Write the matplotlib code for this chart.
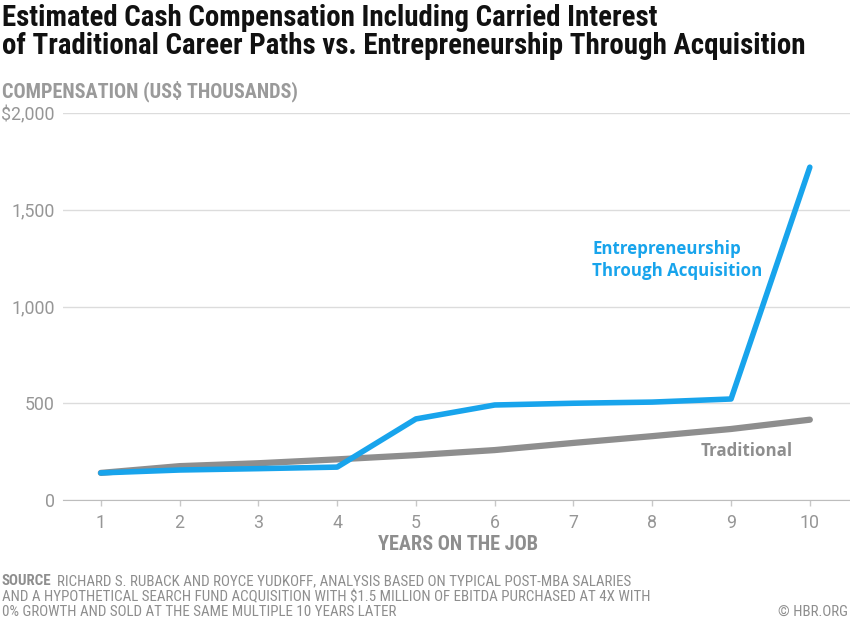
import matplotlib
matplotlib.use("Agg")
import matplotlib.pyplot as plt

years = [1, 2, 3, 4, 5, 6, 7, 8, 9, 10]
eta = [140, 155, 162, 170, 419, 491, 500, 506, 522, 1720]
traditional = [140, 175, 190, 210, 232, 258, 295, 330, 367, 415]
y_ticks = [0, 500, 1000, 1500, 2000]
y_labels = ["0", "500", "1,000", "1,500", "$2,000"]

blue = "#18a4ec"
grey_line = "#8e8e8e"
grey_text = "#9a9a9a"
narrow = ["Roboto Condensed", "Roboto", "DejaVu Sans"]
plain = ["Roboto", "DejaVu Sans"]
wide = ["Open Sans", "DejaVu Sans"]

fig = plt.figure(figsize=(8.5, 6.21), dpi=100)
ax = fig.add_axes([63 / 850, 121 / 621, 787 / 850, 387 / 621])

# grey first so blue sits on top
ax.plot(years, traditional, color=grey_line, lw=4.5, solid_capstyle="round", zorder=3)
ax.plot(years, eta, color=blue, lw=4, solid_capstyle="round", zorder=4)

ax.set_xlim(0.52, 10.51)
ax.set_ylim(0, 2000)
ax.set_yticks(y_ticks)
ax.set_yticklabels(y_labels)
ax.set_xticks(years)
ax.grid(axis="y", color="#dcdcdc", lw=1)
ax.set_axisbelow(True)
for s in ["top", "right", "left"]:
    ax.spines[s].set_visible(False)
ax.spines["bottom"].set_color("#bdbdbd")
ax.tick_params(axis="y", length=0, pad=6, labelsize=12.8, labelcolor="#969696")
ax.tick_params(axis="x", length=4, width=1, color="#c8c8c8", pad=6,
               labelsize=12.8, labelcolor="#969696")
for lab in ax.get_xticklabels() + ax.get_yticklabels():
    lab.set_family(plain)
    lab.set_weight("normal")

ax.text(7.24, 1240, "Entrepreneurship\nThrough Acquisition", color=blue,
        fontsize=12.2, fontweight="bold", family=wide,
        linespacing=1.3, va="center", ha="left")
ax.text(8.61, 253, "Traditional", color=grey_line, fontsize=12.2,
        fontweight="bold", family=wide, va="center")

fig.text(0.002, 1 - 4 / 621, "Estimated Cash Compensation Including Carried Interest\n"
         "of Traditional Career Paths vs. Entrepreneurship Through Acquisition",
         fontsize=20.8, fontweight="bold", family=narrow, va="top",
         linespacing=0.98, color="#111111")
fig.text(0.002, 1 - 91 / 621, "COMPENSATION (US$ THOUSANDS)", fontsize=14.6,
         fontweight="bold", family=narrow, color=grey_text, va="center")
fig.text(458 / 850, 1 - 544 / 621, "YEARS ON THE JOB", fontsize=14.6,
         fontweight="bold", family=narrow, color=grey_line, va="center", ha="center")

src_lines = ["RICHARD S. RUBACK AND ROYCE YUDKOFF, ANALYSIS BASED ON TYPICAL POST-MBA SALARIES",
             "AND A HYPOTHETICAL SEARCH FUND ACQUISITION WITH $1.5 MILLION OF EBITDA PURCHASED AT 4X WITH",
             "0% GROWTH AND SOLD AT THE SAME MULTIPLE 10 YEARS LATER"]
head = fig.text(0.002, 1 - 581 / 621, "SOURCE", fontsize=10.8, fontweight="bold",
                family=narrow, color=grey_line, va="center")
ax.annotate(src_lines[0], xy=(1, 0.5), xycoords=head, xytext=(4, 0),
            textcoords="offset points", fontsize=10.8, family=narrow,
            color=grey_line, va="center", ha="left")
fig.text(0.002, 1 - 597 / 621, src_lines[1], fontsize=10.8, family=narrow,
         color=grey_line, va="center")
fig.text(0.002, 1 - 612 / 621, src_lines[2], fontsize=10.8, family=narrow,
         color=grey_line, va="center")
fig.text(0.998, 1 - 612 / 621, "© HBR.ORG", fontsize=10.8, family=narrow,
         color=grey_line, va="center", ha="right")

fig.savefig("out.png", dpi=100)
